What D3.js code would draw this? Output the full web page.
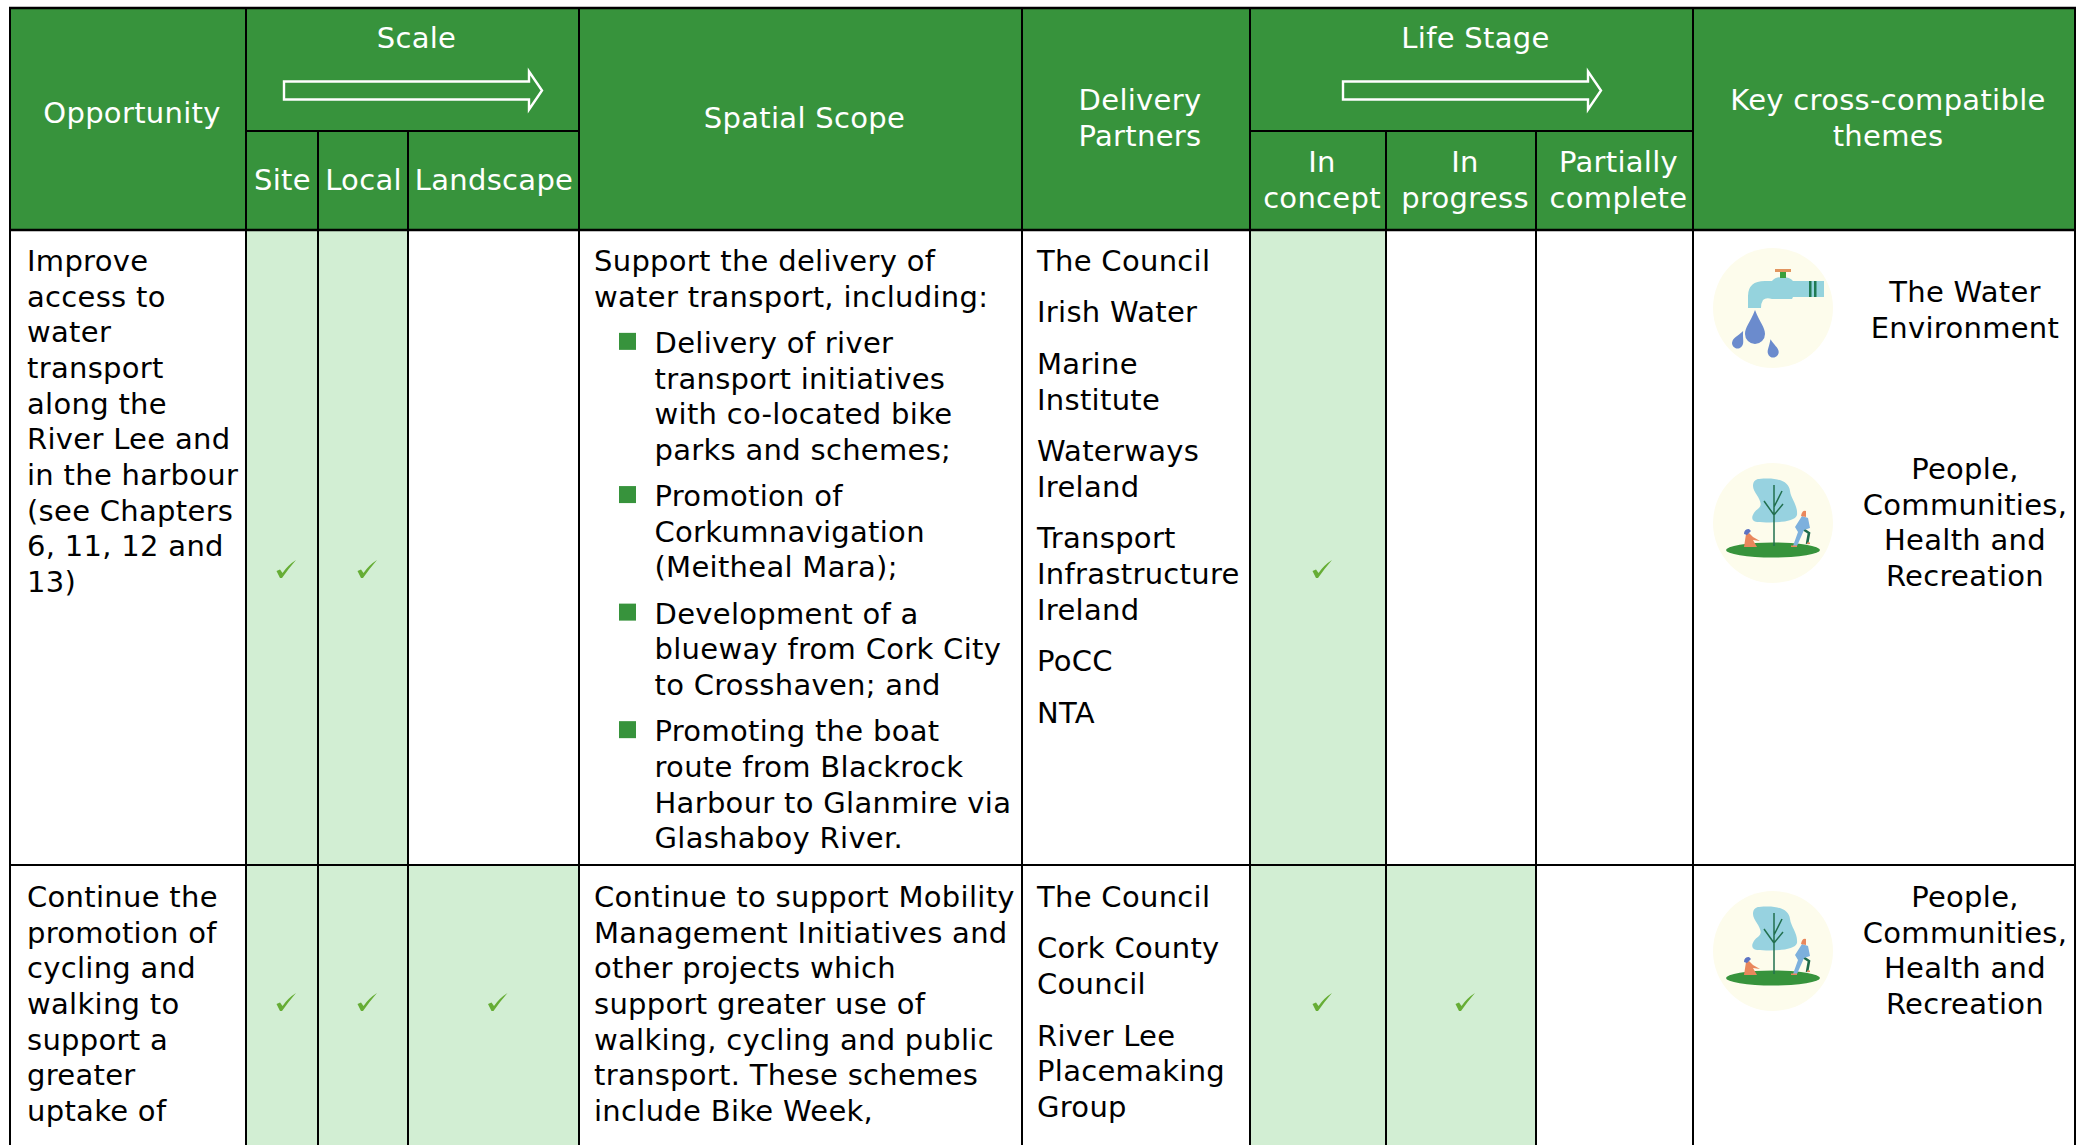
<!DOCTYPE html>
<html><head><meta charset="utf-8"><style>html,body{margin:0;background:#fff}svg{display:block}text{font-family:"DejaVu Sans",Verdana,sans-serif;letter-spacing:.3px}</style>
<script src="https://cdn.jsdelivr.net/npm/d3@7/dist/d3.min.js"></script></head><body><script>
const columns = ["Opportunity","Site","Local","Landscape","Spatial Scope","Delivery Partners","In concept","In progress","Partially complete","Key cross-compatible themes"];
const rowNames = ["water","cycling"];
const opportunityText = [
 ["Improve","access to","water","transport","along the","River Lee and","in the harbour","(see Chapters","6, 11, 12 and","13)"],
 ["Continue the","promotion of","cycling and","walking to","support a","greater","uptake of"]];
const scaleChecks = [["Site","Local"],["Site","Local","Landscape"]];
const stageChecks = [["In concept"],["In concept","In progress"]];
const scopeText = [
 [{t:"p",l:["Support the delivery of","water transport, including:"]},
  {t:"b",l:["Delivery of river","transport initiatives","with co-located bike","parks and schemes;"]},
  {t:"b",l:["Promotion of","Corkumnavigation","(Meitheal Mara);"]},
  {t:"b",l:["Development of a","blueway from Cork City","to Crosshaven; and"]},
  {t:"b",l:["Promoting the boat","route from Blackrock","Harbour to Glanmire via","Glashaboy River."]}],
 [{t:"p",l:["Continue to support Mobility","Management Initiatives and","other projects which","support greater use of","walking, cycling and public","transport. These schemes","include Bike Week,"]}]];
const partnerText = [
 [["The Council"],["Irish Water"],["Marine","Institute"],["Waterways","Ireland"],["Transport","Infrastructure","Ireland"],["PoCC"],["NTA"]],
 [["The Council"],["Cork County","Council"],["River Lee","Placemaking","Group"]]];
const themeText = {water:["The Water","Environment"],people:["People,","Communities,","Health and","Recreation"]};
const rowThemes = [["water","people"],["people"]];

const W=2089,H=1145,green="#37933c",pale="#d2eed3",FS=29,LH=35.68;
const edges=[10,246,318,408,579,1022,1250,1386,1536,1693,2075];
const x=d3.scaleOrdinal().domain(columns).range(edges.slice(0,-1));
const xEnd=d3.scaleOrdinal().domain(columns).range(edges.slice(1));
const mid=c=>(x(c)+xEnd(c))/2;
const y=d3.scaleOrdinal().domain(rowNames).range([230,865]);
const yEnd=d3.scaleOrdinal().domain(rowNames).range([865,1145]);
const checkY=d3.scaleOrdinal().domain(rowNames).range([569,1002]);
const svg=d3.select("body").append("svg").attr("width",W).attr("height",H);
const headTop=8,subTop=131,headBot=230,hs=4;
svg.append("rect").attr("x",edges[0]).attr("y",headTop).attr("width",edges[10]-edges[0]).attr("height",headBot-headTop).attr("fill",green);
rowNames.forEach((r,i)=>{
 [...scaleChecks[i],...stageChecks[i]].forEach(c=>{
  svg.append("rect").attr("x",x(c)).attr("y",y(r)).attr("width",xEnd(c)-x(c)).attr("height",yEnd(r)-y(r)).attr("fill",pale);
  svg.append("path").attr("d","M-9.5,2 L-6,0.5 L-3.5,4 Q2,-4 10,-9 Q3,-1 -4,9 L-6,9 Z").attr("transform",`translate(${mid(c)+4},${checkY(r)})`).attr("fill","#66ad35");
 });
});
function txt(s,xx,yy,a,f,fs){return svg.append("text").attr("x",xx).attr("y",yy).attr("text-anchor",a||"start").attr("fill",f||"#000").attr("font-size",fs||FS).text(s);}
const Wt="#fff";
txt("Opportunity",mid("Opportunity")+hs,123,"middle",Wt);
txt("Scale",(x("Site")+xEnd("Landscape"))/2+hs,48,"middle",Wt);
txt("Life Stage",(x("In concept")+xEnd("Partially complete"))/2+hs,48,"middle",Wt);
["Site","Local","Landscape"].forEach(c=>txt(c,mid(c)+.5,190,"middle",Wt));
txt("Spatial Scope",mid("Spatial Scope")+hs,128,"middle",Wt);
txt("Delivery",mid("Delivery Partners")+hs,110,"middle",Wt);txt("Partners",mid("Delivery Partners")+hs,146,"middle",Wt);
txt("In",mid("In concept")+hs,172,"middle",Wt);txt("concept",mid("In concept")+hs,208,"middle",Wt);
txt("In",mid("In progress")+hs,172,"middle",Wt);txt("progress",mid("In progress")+hs,208,"middle",Wt);
txt("Partially",mid("Partially complete")+hs,172,"middle",Wt);txt("complete",mid("Partially complete")+hs,208,"middle",Wt);
txt("Key cross-compatible",mid(columns[9])+hs,110,"middle",Wt);txt("themes",mid(columns[9])+hs,146,"middle",Wt);
function arrow(x0,x1){const c=90.5;svg.append("path").attr("d",`M${x0},${c-9}H${x1-13}V${c-19}L${x1},${c}L${x1-13},${c+19}V${c+9}H${x0}Z`).attr("fill","none").attr("stroke","#fff").attr("stroke-width",2.4);}
arrow(284,542);arrow(1343,1601);
const line=(a,b,c,d,w)=>svg.append("line").attr("x1",a).attr("y1",b).attr("x2",c).attr("y2",d).attr("stroke","#000").attr("stroke-width",w||2);
edges.forEach((e,i)=>{const sub=[2,3,7,8].includes(i);line(e,sub?subTop:headTop,e,H,2);});
line(edges[0]-1,headTop,edges[10]+1,headTop,2.5);line(edges[1],subTop,edges[4],subTop);line(edges[6],subTop,edges[9],subTop);
line(edges[0],headBot,edges[10],headBot,2.5);line(edges[0],865,edges[10],865);
const first=[271,907];
rowNames.forEach((r,i)=>{
 opportunityText[i].forEach((s,k)=>txt(s,27,first[i]+k*LH));
 let yy=first[i];
 scopeText[i].forEach((b,bi)=>{
  if(bi>0) yy+=10.5;
  b.l.forEach((s,k)=>{
   if(b.t==="b"&&k===0) svg.append("rect").attr("x",619).attr("y",yy-20).attr("width",17).attr("height",17).attr("fill",green);
   txt(s,b.t==="b"?654.5:594,yy);yy+=LH;});
 });
 yy=first[i];
 partnerText[i].forEach(p=>{p.forEach(s=>{txt(s,1037,yy);yy+=LH;});yy+=15.8;});
});
function waterIcon(g){
 g.append("circle").attr("r",60).attr("fill","#fdfcec");
 g.append("path").attr("d","M-25,0 V-12 Q-25,-27 -8,-27 H-1 Q2,-31 9,-31 Q17,-31 20,-27 H51 V-11 H20 L19,-9 H-1 Q-7,-11 -10,-8 Q-12,-5 -12,0 Z").attr("fill","#95d3dd");
 g.append("rect").attr("x",2).attr("y",-39).attr("width",16).attr("height",3).attr("fill","#e2955f");
 g.append("rect").attr("x",7).attr("y",-36).attr("width",6).attr("height",6).attr("fill","#3a9f3d");
 g.append("path").attr("d","M36,-27h2.5v16h-2.5zM41,-27h2.5v16h-2.5z").attr("fill","#1f7a52");
 const drop=(a,b,s,r)=>g.append("path").attr("transform",`translate(${a},${b}) rotate(${r}) scale(${s})`).attr("d","M0,-22 C5,-9 10,-5 10,2 A10,10 0 0 1 -10,2 C-10,-5 -5,-9 0,-22Z").attr("fill","#6b8bcd");
 drop(-18,24,1,0);drop(-35,34,.55,25);drop(0,43,.55,-12);
}
function peopleIcon(g){
 g.append("circle").attr("r",60).attr("fill","#fdfcec");
 g.append("ellipse").attr("cy",27).attr("rx",47).attr("ry",7.5).attr("fill","#37933c");
 g.append("path").attr("d","M-14,-44 C4,-46 16,-42 17,-32 C18,-24 25,-18 24,-8 C22,0 -2,0 -16,-1 C-24,-2 -21,-10 -14,-15 C-8,-21 -20,-30 -20,-37 C-20,-42 -17,-44 -14,-44Z").attr("fill","#97d2e0");
 g.append("path").attr("d","M1,23V-38M1,-8L-9,-22M1,-8L10,-19M1,-16L9,-32").attr("stroke","#22704f").attr("stroke-width",1.5).attr("fill","none");
 g.append("path").attr("d","M-29,24 L-27,11 L-24,10 L-20,14 L-13,18 L-20,17 L-16,24Z").attr("fill","#e9875c");
 g.append("path").attr("d","M-29,11 Q-29,6 -24,6 L-22,8 L-26,12Z").attr("fill","#5d74c3");
 g.append("path").attr("d","M30,6 L36,10 L34,21").attr("stroke","#1f6b4a").attr("stroke-width",2.6).attr("fill","none");
 g.append("path").attr("d","M20,23 L25,9 L22,4 L29,-7 L35,-5 L37,5 L31,7 L24,23Z").attr("fill","#7db0dd");
 g.append("path").attr("d","M28,-7 Q29,-13 33,-12 L33,-6Z").attr("fill","#e9875c");
 g.append("path").attr("d","M18,24h6v-1.6h-6zM34,21h3v-1.6h-3z").attr("fill","#e9875c");
}
const iconFor={water:waterIcon,people:peopleIcon};
const themeY=[[308,523],[951]];
const themeBase=[[302,479],[907]];
rowThemes.forEach((list,i)=>list.forEach((th,k)=>{
 iconFor[th](svg.append("g").attr("transform",`translate(1773,${themeY[i][k]})`));
 themeText[th].forEach((s,m)=>txt(s,1965,themeBase[i][k]+m*LH,"middle"));
}));
</script></body></html>
